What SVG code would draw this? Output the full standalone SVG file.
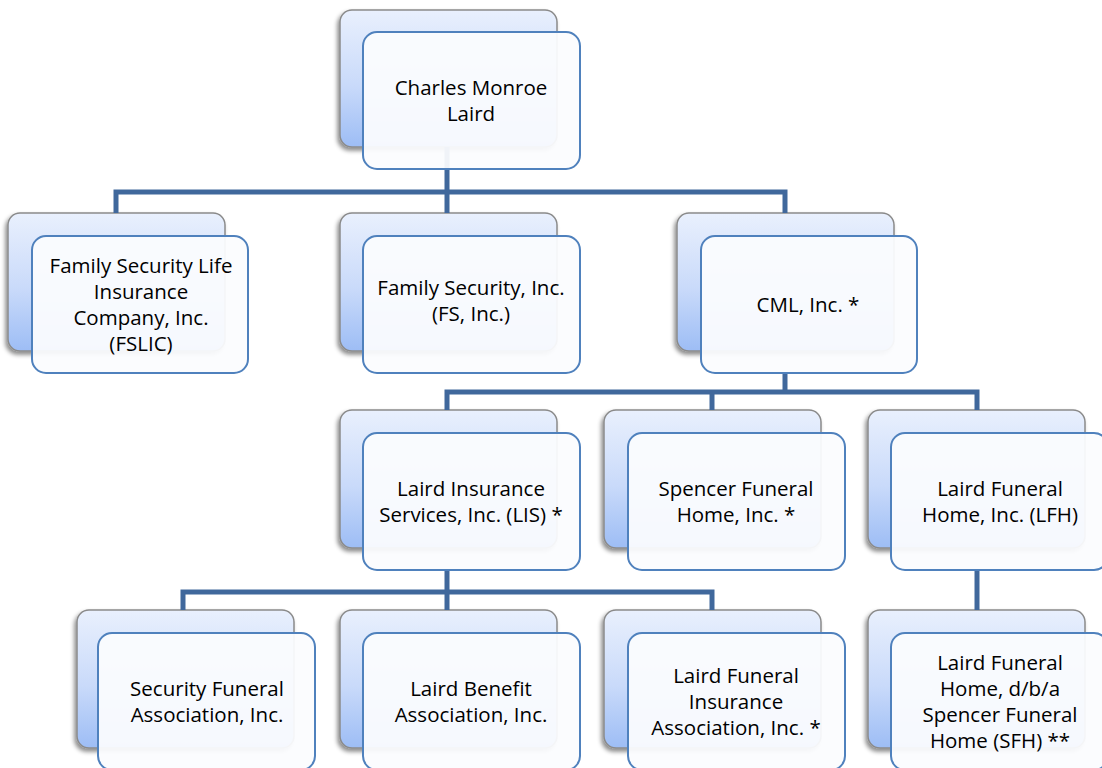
<svg xmlns="http://www.w3.org/2000/svg" width="1102" height="768" viewBox="0 0 1102 768">
<defs>
<linearGradient id="bg" x1="0" y1="0" x2="0" y2="1">
<stop offset="0" stop-color="#e9f0fd"/>
<stop offset="0.55" stop-color="#c9dafa"/>
<stop offset="1" stop-color="#9dbdf5"/>
</linearGradient>
<filter id="sh" x="-10%" y="-10%" width="120%" height="125%">
<feDropShadow dx="-2" dy="3" stdDeviation="2" flood-color="#000" flood-opacity="0.45"/>
</filter>
</defs>
<style>
.back{fill:url(#bg);stroke:#8a8a8a;stroke-width:1.5;filter:url(#sh)}
.front{fill:#fbfcfe;fill-opacity:0.94;stroke:#4f81bd;stroke-width:2}
.c{fill:none;stroke:#40689c;stroke-width:5;stroke-linejoin:miter}
text{font-family:"Open Sans","Liberation Sans",sans-serif;font-size:20.5px;fill:#000;text-anchor:middle}
</style>
<rect width="1102" height="768" fill="#fff"/>
<g id="backs">
<rect class="back" x="340" y="10" width="217" height="137" rx="12"/>
<rect class="back" x="8" y="213" width="217" height="138" rx="12"/>
<rect class="back" x="340" y="213" width="217" height="138" rx="12"/>
<rect class="back" x="677" y="213" width="217" height="138" rx="12"/>
<rect class="back" x="340" y="410" width="217" height="138" rx="12"/>
<rect class="back" x="604" y="410" width="217" height="138" rx="12"/>
<rect class="back" x="868" y="410" width="217" height="138" rx="12"/>
<rect class="back" x="77" y="610" width="217" height="138" rx="12"/>
<rect class="back" x="340" y="610" width="217" height="138" rx="12"/>
<rect class="back" x="604" y="610" width="217" height="138" rx="12"/>
<rect class="back" x="868" y="610" width="217" height="138" rx="12"/>
</g>
<g id="connectors">
<path class="c" d="M447 147 V192 M116 213 V192 H785 V213 M447 192 V213"/>
<path class="c" d="M785 373 V392 M447 410 V392 H977 V410 M712 392 V410"/>
<path class="c" d="M447 570 V592 M183 610 V592 H712 V610 M447 592 V610"/>
<path class="c" d="M977 570 V610"/>
</g>
<g id="n-cml-person">
<rect class="front" x="363" y="32" width="217" height="137" rx="14"/>
<text x="471" y="95">Charles Monroe</text>
<text x="471" y="121">Laird</text>
</g>
<g id="n-fslic">
<rect class="front" x="32" y="236" width="216" height="137" rx="14"/>
<text x="141" y="273">Family Security Life</text>
<text x="141" y="299">Insurance</text>
<text x="141" y="325">Company, Inc.</text>
<text x="141" y="351">(FSLIC)</text>
</g>
<g id="n-fs">
<rect class="front" x="363" y="236" width="217" height="137" rx="14"/>
<text x="471" y="295">Family Security, Inc.</text>
<text x="471" y="321">(FS, Inc.)</text>
</g>
<g id="n-cml">
<rect class="front" x="701" y="236" width="216" height="137" rx="14"/>
<text x="808" y="312">CML, Inc. *</text>
</g>
<g id="n-lis">
<rect class="front" x="363" y="433" width="217" height="137" rx="14"/>
<text x="471" y="496">Laird Insurance</text>
<text x="471" y="522">Services, Inc. (LIS) *</text>
</g>
<g id="n-sfh-inc">
<rect class="front" x="628" y="433" width="217" height="137" rx="14"/>
<text x="736" y="496">Spencer Funeral</text>
<text x="736" y="522">Home, Inc. *</text>
</g>
<g id="n-lfh">
<rect class="front" x="891" y="433" width="217" height="137" rx="14"/>
<text x="1000" y="496">Laird Funeral</text>
<text x="1000" y="522">Home, Inc. (LFH)</text>
</g>
<g id="n-sfa">
<rect class="front" x="98" y="633" width="217" height="137" rx="14"/>
<text x="207" y="696">Security Funeral</text>
<text x="207" y="722">Association, Inc.</text>
</g>
<g id="n-lba">
<rect class="front" x="363" y="633" width="217" height="137" rx="14"/>
<text x="471" y="696">Laird Benefit</text>
<text x="471" y="722">Association, Inc.</text>
</g>
<g id="n-lfia">
<rect class="front" x="628" y="633" width="217" height="137" rx="14"/>
<text x="736" y="683">Laird Funeral</text>
<text x="736" y="709">Insurance</text>
<text x="736" y="735">Association, Inc. *</text>
</g>
<g id="n-sfh">
<rect class="front" x="891" y="633" width="217" height="137" rx="14"/>
<text x="1000" y="670">Laird Funeral</text>
<text x="1000" y="696">Home, d/b/a</text>
<text x="1000" y="722">Spencer Funeral</text>
<text x="1000" y="748">Home (SFH) **</text>
</g>
</svg>
